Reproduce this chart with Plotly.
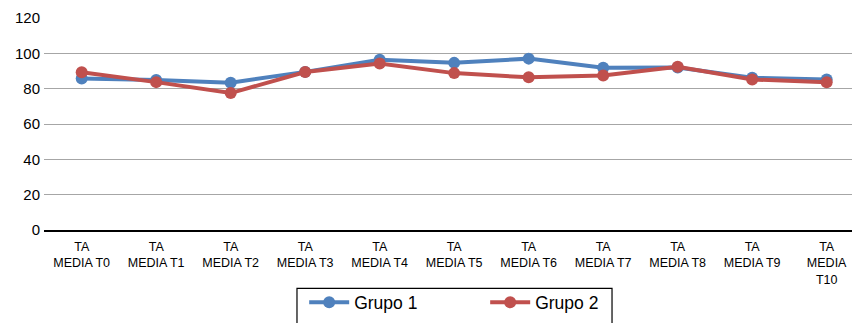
import plotly.graph_objects as go

categories = ["TA<br>MEDIA T0", "TA<br>MEDIA T1", "TA<br>MEDIA T2", "TA<br>MEDIA T3",
              "TA<br>MEDIA T4", "TA<br>MEDIA T5", "TA<br>MEDIA T6", "TA<br>MEDIA T7",
              "TA<br>MEDIA T8", "TA<br>MEDIA T9", "TA<br>MEDIA<br>T10"]
grupo1 = [85.8, 84.9, 83.4, 89.5, 96.4, 94.6, 97.0, 91.8, 92.0, 86.2, 85.2]
grupo2 = [89.3, 83.7, 77.5, 89.4, 94.3, 88.8, 86.4, 87.4, 92.4, 85.2, 83.6]
yticks = [0, 20, 40, 60, 80, 100, 120]

fig = go.Figure()
fig.add_trace(go.Scatter(x=categories, y=grupo1, name="Grupo 1", mode="lines+markers",
                         line=dict(color="#4F81BD", width=4), marker=dict(size=12, color="#4F81BD")))
fig.add_trace(go.Scatter(x=categories, y=grupo2, name="Grupo 2", mode="lines+markers",
                         line=dict(color="#C0504D", width=4), marker=dict(size=12, color="#C0504D")))

fig.update_layout(
    width=854, height=323,
    margin=dict(l=44, r=2, t=18, b=91),
    paper_bgcolor="white", plot_bgcolor="white",
    font=dict(family="Liberation Sans, Arial, sans-serif", color="black"),
    xaxis=dict(showgrid=False, showline=True, linecolor="black", linewidth=2,
               tickfont=dict(size=12.5), ticks="", automargin=False,
               ticklabelstandoff=4, range=[-0.506, 10.34]),
    yaxis=dict(range=[0, 120], tickvals=yticks, showgrid=True, gridcolor="#A6A6A6",
               gridwidth=1.3, zeroline=False, tickfont=dict(size=15), ticks="",
               ticklabelstandoff=3, showline=False, automargin=False),
    legend=dict(orientation="h", x=0.322, xanchor="left", y=-0.257, yanchor="top",
                borderwidth=0, font=dict(size=17.5),
                entrywidth=126, itemwidth=40, bgcolor="rgba(0,0,0,0)"),
    shapes=[dict(type="rect", xref="paper", yref="paper",
                 x0=0.3131, x1=0.703, y0=-0.2757, y1=-0.6,
                 line=dict(color="black", width=1.2), fillcolor="rgba(0,0,0,0)")],
    showlegend=True,
)
fig.write_html("out.html")
